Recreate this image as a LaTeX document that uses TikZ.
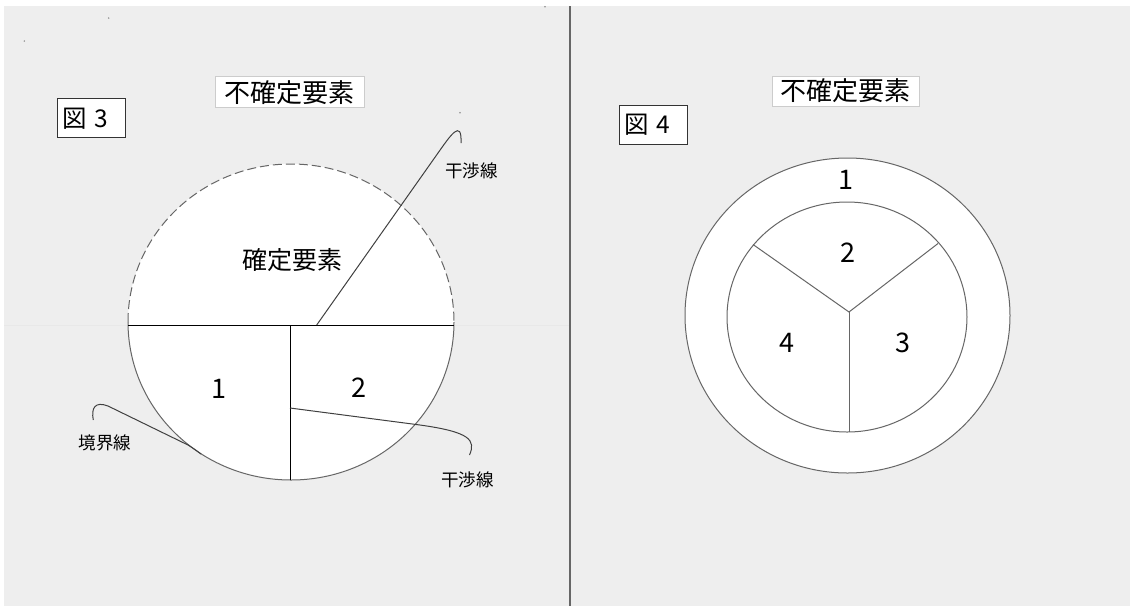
\documentclass[tikz,border=0pt]{standalone}
\usepackage{fontspec}
\setmainfont{Noto Sans CJK JP}
\definecolor{bgray}{HTML}{EEEEEE}
\begin{document}
\begin{tikzpicture}[x=1pt,y=-1pt,
  every node/.style={inner sep=0pt, text=black},
  titlebox/.style={draw=black!20, fill=white, line width=1pt, minimum width=149pt, minimum height=31pt, font=\fontsize{26}{30}\selectfont},
  figbox/.style={draw=black!80, fill=white, line width=1pt, anchor=north west, minimum height=39pt, text width=59pt, inner xsep=4.5pt, align=left, font=\fontsize{24.5}{28}\selectfont},
  ringline/.style={draw=black!60, line width=1pt},
  dashring/.style={draw=black!60, line width=1pt, dash pattern=on 9pt off 4pt},
  splitline/.style={draw=black, line width=0.9pt},
  leader/.style={draw=black!75, line width=1pt},
  numlabel/.style={font=\fontsize{27}{30}\selectfont},
  smalllabel/.style={font=\fontsize{17.5}{20}\selectfont},
  midlabel/.style={font=\fontsize{25}{28}\selectfont},
  speck/.style={fill=black!45}
]
\useasboundingbox (0,0) rectangle (1130,606);
\fill[white] (0,0) rectangle (1130,606);
\fill[bgray] (4,6) rectangle (1130,606);
% faint guide line
\draw[black!9, line width=0.8pt] (4,325.5) -- (570,325.5);
% divider
\coordinate (dtop) at (570,6);
\coordinate (dbot) at (570,606);
\draw[black!60, line width=1.6pt] (dtop) -- (dbot);
% specks
\fill[speck] (108.7,18) circle[radius=0.8pt];
\fill[speck] (24.3,41) circle[radius=0.8pt];
\fill[speck] (460,112.7) circle[radius=0.9pt];
\fill[speck] (545,6.8) circle[radius=0.9pt];

% ---------------- Figure 3 ----------------
\node[figbox] (fig3) at (57.3,98.3) {図 3};
\node[titlebox] (unc3) at (289.5,92.2) {不確定要素};

\fill[white] (291,322) ellipse[x radius=163pt, y radius=158pt];
\draw[dashring] (128,322) arc[start angle=180, end angle=0, x radius=163pt, y radius=158pt];
\draw[ringline] (128,322) arc[start angle=180, end angle=360, x radius=163pt, y radius=158pt];

\coordinate (hl) at (128,325);
\coordinate (hr) at (454,325);
\coordinate (vt) at (290,325);
\coordinate (vb) at (290,480);
\draw[splitline] (hl) -- (hr);
\draw[splitline] (vt) -- (vb);

\node[midlabel] (sure) at (292,260) {確定要素};
\node[numlabel] (n31) at (219,388.5) {1};
\node[numlabel] (n32) at (358.7,388) {2};

% upper interference line
\coordinate (ia0) at (316.7,325);
\coordinate (ia1) at (438,153);
\coordinate (ia2) at (461,143);
\draw[leader] (ia0) -- (ia1) .. controls (450,136) and (462,118) .. (ia2);
\node[smalllabel] (int1) at (471.7,170.5) {干渉線};

% lower interference line
\coordinate (ib0) at (290,408);
\coordinate (ib1) at (420,425);
\coordinate (ib2) at (469.5,455);
\draw[leader] (ib0) -- (ib1) .. controls (470,432) and (476,440) .. (ib2);
\node[smalllabel] (int2) at (467.3,479.5) {干渉線};

% boundary line
\coordinate (bd0) at (93.3,420);
\coordinate (bd1) at (108,406);
\coordinate (bd2) at (188,445);
\coordinate (bd3) at (201,454);
\draw[leader] (bd0) .. controls (91,408) and (95,401) .. (bd1) -- (bd2) .. controls (193,448) and (197,451) .. (bd3);
\node[smalllabel] (bnd) at (105,442.5) {境界線};

% ---------------- Figure 4 ----------------
\node[figbox] (fig4) at (619.3,105) {図 4};
\node[titlebox, minimum width=147pt, minimum height=30pt] (unc4) at (845.8,91) {不確定要素};

\fill[white] (847.5,315.5) ellipse[x radius=162.5pt, y radius=157.5pt];
\draw[ringline] (847.5,315.5) ellipse[x radius=162.5pt, y radius=157.5pt];
\draw[ringline] (847,317) ellipse[x radius=120pt, y radius=115pt];

\coordinate (yc) at (849,312);
\coordinate (ya) at (753,244.5);
\coordinate (yb) at (938,243.5);
\coordinate (yd) at (849,432);
\draw[ringline] (ya) -- (yc) -- (yb);
\draw[ringline] (yc) -- (yd);

\node[numlabel] (n41) at (845.7,180) {1};
\node[numlabel] (n42) at (848,253) {2};
\node[numlabel] (n44) at (787,343) {4};
\node[numlabel] (n43) at (903,343) {3};
\end{tikzpicture}
\end{document}
